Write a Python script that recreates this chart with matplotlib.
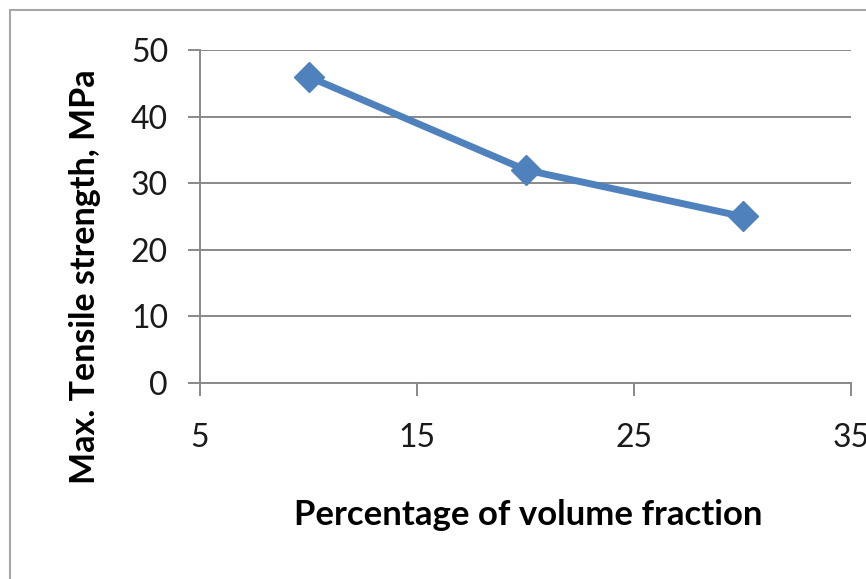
import matplotlib
matplotlib.use("Agg")
import matplotlib.pyplot as plt
from matplotlib.patches import Rectangle

# Tensile test results
volume_fraction = [10, 20, 30]
tensile_strength = [46, 32, 25]
x_ticks = [5, 15, 25, 35]
y_ticks = [0, 10, 20, 30, 40, 50]

W, H = 866, 579
fig = plt.figure(figsize=(W / 100, H / 100), dpi=100)
plt.rcParams['font.family'] = ['Lato', 'DejaVu Sans']

# chart frame
fig.patches.append(Rectangle((10 / W, -0.1), 2.0, (H - 10) / H + 0.1,
                             transform=fig.transFigure, fill=False,
                             edgecolor='#a6a6a6', linewidth=1.5))

ax = fig.add_axes([200 / W, 1 - 383 / H, (851 - 200) / W, (383 - 50) / H])
ax.set_xlim(5, 35)
ax.set_ylim(0, 50)
ax.set_xticks(x_ticks)
ax.set_yticks(y_ticks)

grid_c = '#898989'
ax.grid(axis='y', color=grid_c, linewidth=1.4)
ax.set_axisbelow(True)
for s in ['top', 'right']:
    ax.spines[s].set_visible(False)
for s in ['left', 'bottom']:
    ax.spines[s].set_color(grid_c)
    ax.spines[s].set_linewidth(1.4)
ax.tick_params(axis='both', direction='out', length=9, width=1.4, color=grid_c,
               labelsize=23, labelcolor='#1a1a1a')
ax.tick_params(axis='y', pad=14)
ax.tick_params(axis='x', pad=20)

ax.plot(volume_fraction, tensile_strength, color='#4f81bd', linewidth=5,
        marker='D', markersize=15, clip_on=False)

fig.text(528 / W, 1 - 515 / H, 'Percentage of volume fraction', ha='center',
         va='center', fontsize=25, fontweight='bold')
fig.text(85 / W, 1 - 277 / H, 'Max. Tensile strength, MPa', ha='center',
         va='center', rotation=90, fontsize=24.5, fontweight='bold')

fig.savefig('out.png', dpi=100)
